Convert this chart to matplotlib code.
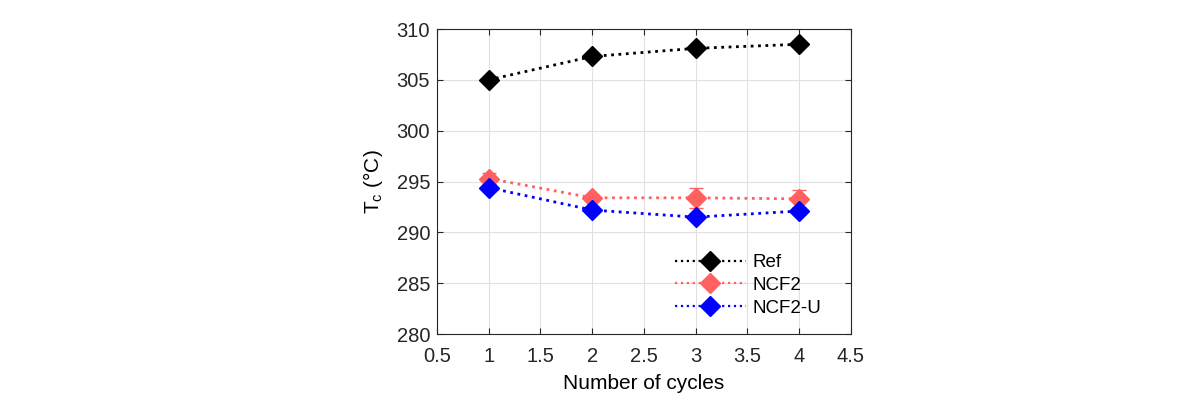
import matplotlib.pyplot as plt
from matplotlib.lines import Line2D

plt.rcParams['font.family'] = ['Liberation Sans', 'DejaVu Sans']

cycles = [1, 2, 3, 4]
ref = [305.0, 307.3, 308.1, 308.5]
ref_err = [0.2, 0.2, 0.2, 0.2]
ncf2 = [295.3, 293.4, 293.4, 293.3]
ncf2_err = [0.5, 0.3, 1.0, 0.9]
ncf2u = [294.4, 292.2, 291.5, 292.1]
ncf2u_err = [0.3, 0.3, 0.3, 0.3]

xticks = [0.5, 1, 1.5, 2, 2.5, 3, 3.5, 4, 4.5]
yticks = [280, 285, 290, 295, 300, 305, 310]

fig = plt.figure(figsize=(11.92, 4.03), dpi=100)
ax = fig.add_axes([0.3666, 0.171, 0.347, 0.757])

series = [
    (ref, ref_err, 'black', 'Ref'),
    (ncf2, ncf2_err, '#ff6060', 'NCF2'),
    (ncf2u, ncf2u_err, '#0000ff', 'NCF2-U'),
]
handles = []
for vals, err, col, lab in series:
    ax.errorbar(cycles, vals, yerr=err, color=col, ls=':', lw=2, marker='D',
                markersize=10, capsize=5, elinewidth=1.2)
    handles.append(Line2D([], [], color=col, ls=':', lw=1.6, marker='D',
                          markersize=10, label=lab))

ax.set_xlim(0.5, 4.5)
ax.set_ylim(280, 310)
ax.set_xticks(xticks)
ax.set_xticklabels(['0.5', '1', '1.5', '2', '2.5', '3', '3.5', '4', '4.5'])
ax.set_yticks(yticks)
ax.grid(True, color='#e0e0e0', lw=0.8)
ax.set_axisbelow(True)
ax.tick_params(direction='in', top=True, right=True, labelsize=14.5, colors='#262626', length=4)
ax.tick_params(axis='x', pad=9)
ax.tick_params(axis='y', pad=5)
for s in ax.spines.values():
    s.set_color('#262626')
    s.set_linewidth(0.8)

ax.set_xlabel('Number of cycles', fontsize=15, labelpad=6)
ax.set_ylabel('T$_\\mathregular{c}$ (°C)', fontsize=15, labelpad=8)

ax.legend(handles=handles, loc='center left', frameon=False, fontsize=13.5,
          handlelength=3.8, handletextpad=0.35, labelspacing=0.3,
          borderpad=0, borderaxespad=0, bbox_to_anchor=(0.575, 0.16))

fig.savefig('out.png', dpi=100)
